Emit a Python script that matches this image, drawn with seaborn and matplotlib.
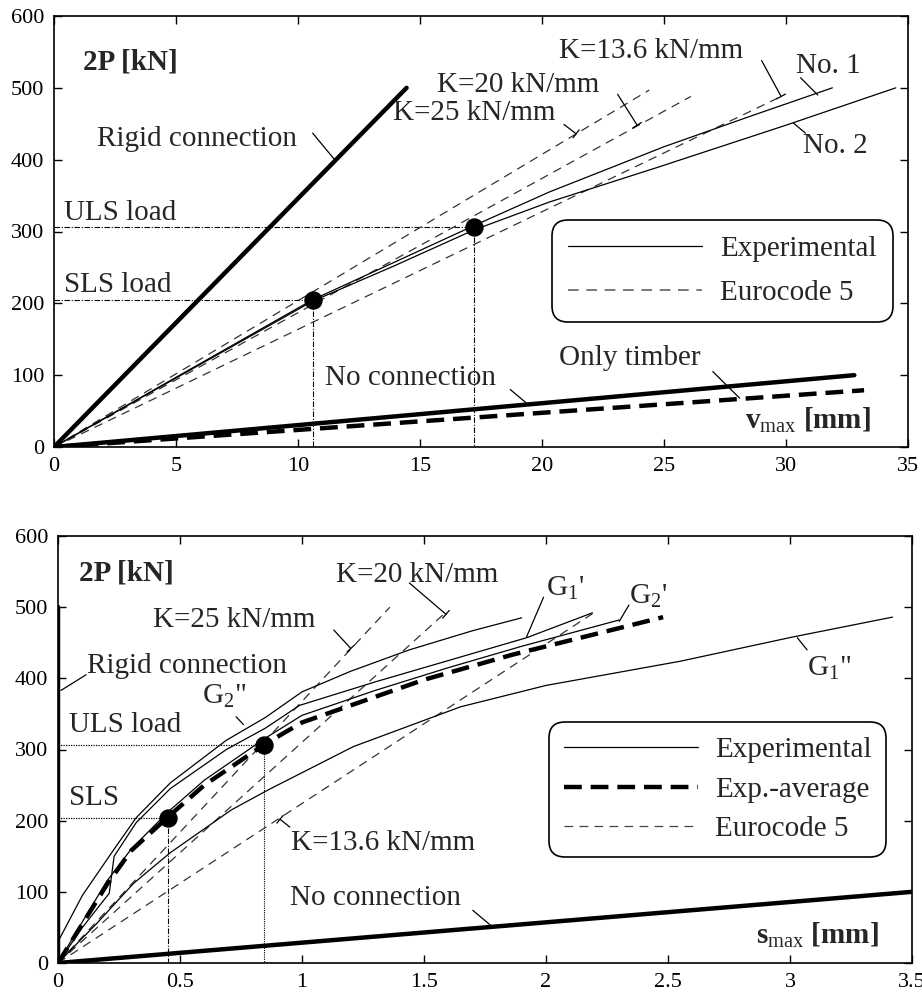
import numpy as np
import seaborn as sns
import matplotlib.pyplot as plt
from matplotlib.lines import Line2D
from matplotlib.ticker import FuncFormatter

# ---- top panel: mid-span deflection v_max [mm] vs. load 2P [kN]
v_no1 = [0, 5, 10.6, 14, 17.2, 20.3, 25, 28.5, 31.9]
p_no1 = [0, 97, 205, 258, 308, 355, 418, 460, 500]
v_no2 = [0, 5, 10.6, 14, 17.2, 20.3, 24.8, 30, 34.5]
p_no2 = [0, 96, 203, 253, 302, 341, 390, 448, 500]
v_k25 = [0, 24.4]
p_k25 = [0, 497]
v_k20 = [0, 26.1]
p_k20 = [0, 488]
v_k136 = [0, 29.8]
p_k136 = [0, 488]
v_rigid = [0, 14.45]
p_rigid = [0, 500]
v_none = [0, 32.8]
p_none = [0, 100]
v_timber = [0, 33.2]
p_timber = [0, 79]

# ---- bottom panel: end slip s_max [mm] vs. load 2P [kN]
s_g2b = [0, 0.1, 0.22, 0.32, 0.46, 0.69, 0.85, 1.0, 1.2, 1.44, 1.7, 1.9]
p_g2b = [30, 95, 155, 204, 253, 313, 345, 381, 410, 440, 467, 485]
s_g1a = [0, 0.1, 0.21, 0.23, 0.32, 0.46, 0.69, 0.85, 0.99, 1.3, 1.6, 1.92, 2.19]
p_g1a = [0, 50, 98, 150, 197, 245, 300, 330, 362, 395, 425, 457, 492]
s_g2a = [0, 0.1, 0.2, 0.3, 0.45, 0.6, 0.85, 1.0, 1.3, 1.6, 1.9, 2.3]
p_g2a = [0, 58, 115, 160, 212, 257, 316, 348, 383, 415, 445, 482]
s_g1b = [0, 0.16, 0.31, 0.46, 0.71, 0.86, 1.21, 1.65, 2.0, 2.55, 3.01, 3.42]
p_g1b = [0, 56, 112, 155, 215, 243, 304, 360, 390, 424, 458, 486]
s_avg = [0, 0.1, 0.2, 0.3, 0.45, 0.6, 0.85, 1.0, 1.2, 1.5, 1.86, 2.2, 2.48]
p_avg = [0, 55, 110, 158, 205, 250, 308, 338, 362, 398, 433, 462, 486]
s_k25 = [0, 1.36]
p_k25b = [0, 500]
s_k20 = [0, 1.59]
p_k20b = [0, 493]
s_k136 = [0, 2.2]
p_k136b = [0, 493]
s_rigid = [0, 0]
p_rigidb = [0, 500]
s_none = [0, 3.5]
p_noneb = [0, 100]

# serviceability / ultimate limit state loads
p_sls = 204
p_uls = 306
v_sls, v_uls = 10.6, 17.2
s_sls, s_uls = 0.45, 0.845

sns.set_theme(style="ticks")
plt.rcParams['font.family'] = ['Liberation Serif', 'DejaVu Serif']
plt.rcParams['mathtext.fontset'] = 'custom'
plt.rcParams['mathtext.rm'] = 'Liberation Serif'
plt.rcParams['mathtext.bf'] = 'Liberation Serif:bold'

FS = 21
DASH = (0, (7, 5))
THICK_DASH = (0, (4, 2))
DASHDOT = (0, (5, 1.5, 1, 1.5))


def line(ax, x, y, lw=0.9, ls='-', color='black'):
    sns.lineplot(x=x, y=y, ax=ax, color=color, linewidth=lw, linestyle=ls,
                 sort=False, estimator=None, legend=False)


def label(ax, text, pos, start=None, end=None, tee=False, **kw):
    ax.text(pos[0], pos[1], text, fontsize=FS, ha='left', va='baseline', **kw)
    if start is not None:
        style = '-[, widthB=0.3, lengthB=0' if tee else '-'
        ax.annotate('', xy=end, xytext=start,
                    arrowprops=dict(arrowstyle=style, lw=0.9, color='black',
                                    shrinkA=0, shrinkB=0))


def style_axes(ax, xmax, xstep):
    ax.set_xlim(0, xmax)
    ax.set_ylim(0, 600)
    ax.set_xticks(np.arange(0, xmax + xstep / 2, xstep))
    ax.set_yticks(np.arange(0, 601, 100))
    ax.xaxis.set_major_formatter(FuncFormatter(lambda v, p: '%g' % v))
    ax.tick_params(direction='in', top=True, right=True, length=6, width=1,
                   labelsize=16, pad=7, colors='black')
    for sp in ax.spines.values():
        sp.set_visible(True)
        sp.set_linewidth(1.2)
        sp.set_color('black')
    ax.set_xlabel('')
    ax.set_ylabel('')


def box(leg):
    frame = leg.get_frame()
    frame.set_linewidth(1.2)
    frame.set_boxstyle('round,pad=0,rounding_size=0.55')


fig = plt.figure(figsize=(9.22, 9.93), dpi=100)
ax1 = fig.add_axes([54 / 922, 1 - 447 / 993, 854 / 922, 431 / 993])
ax2 = fig.add_axes([58 / 922, 1 - 963 / 993, 854 / 922, 427 / 993])

# ---------------- top panel
line(ax1, [0, v_uls, v_uls], [p_uls, p_uls, 0], lw=0.8, ls=DASHDOT)
line(ax1, [0, v_sls, v_sls], [p_sls, p_sls, 0], lw=0.8, ls=DASHDOT)
line(ax1, v_k25, p_k25, ls=DASH, color='#333333')
line(ax1, v_k20, p_k20, ls=DASH, color='#333333')
line(ax1, v_k136, p_k136, ls=DASH, color='#333333')
line(ax1, v_no1, p_no1)
line(ax1, v_no2, p_no2)
line(ax1, v_rigid, p_rigid, lw=3.2)
line(ax1, v_none, p_none, lw=3.2)
line(ax1, v_timber, p_timber, lw=3.2, ls=THICK_DASH)
sns.scatterplot(x=[v_sls, v_uls], y=[p_sls, p_uls], ax=ax1, s=150,
                color='black', edgecolor='black', zorder=5, legend=False)

label(ax1, '2P [kN]', (1.2, 525), fontweight='bold')
label(ax1, 'Rigid connection', (1.75, 419), (10.6, 437), (11.5, 400))
label(ax1, 'ULS load', (0.4, 316))
label(ax1, 'SLS load', (0.4, 216))
label(ax1, 'K=13.6 kN/mm', (20.7, 541), (29.0, 538), (29.8, 488), tee=True)
label(ax1, 'K=20 kN/mm', (15.7, 494), (23.1, 491), (23.9, 448), tee=True)
label(ax1, 'K=25 kN/mm', (13.9, 455), (20.9, 449), (21.4, 436), tee=True)
label(ax1, 'No. 1', (30.4, 521), (30.6, 514), (31.3, 490))
label(ax1, 'No. 2', (30.7, 409), (30.8, 437), (30.3, 451))
label(ax1, 'No connection', (11.1, 86), (18.7, 80), (19.4, 60))
label(ax1, 'Only timber', (20.7, 114), (27.0, 105), (28.1, 68))
ax1.text(28.3, 26, r'$\mathbf{v}_{\mathrm{max}}$ [mm]', fontsize=FS,
         fontweight='bold', ha='left', va='baseline')

h1 = [Line2D([], [], color='black', lw=0.9),
      Line2D([], [], color='#555555', lw=1.1, ls=(0, (7, 5)))]
leg1 = ax1.legend(h1, ['Experimental', 'Eurocode 5'], loc='upper right',
                  bbox_to_anchor=(0.982, 0.527), borderaxespad=0, fontsize=FS,
                  handlelength=4.6, handletextpad=0.6, labelspacing=0.6,
                  borderpad=0.55, fancybox=True, framealpha=1, edgecolor='black')
box(leg1)
style_axes(ax1, 35, 5)

# ---------------- bottom panel
line(ax2, [0, s_uls], [p_uls, p_uls], lw=0.9, ls=(0, (1, 1)))
line(ax2, [0, s_sls], [p_sls, p_sls], lw=0.9, ls=(0, (1, 1)))
line(ax2, [s_uls, s_uls], [p_uls, 0], lw=0.8, ls=(0, (1, 1)))
line(ax2, [s_sls, s_sls], [p_sls, 0], lw=0.8, ls=DASHDOT)
line(ax2, s_k25, p_k25b, ls=DASH, color='#333333')
line(ax2, s_k20, p_k20b, ls=DASH, color='#333333')
line(ax2, s_k136, p_k136b, ls=DASH, color='#333333')
line(ax2, s_g2b, p_g2b)
line(ax2, s_g1a, p_g1a)
line(ax2, s_g2a, p_g2a)
line(ax2, s_g1b, p_g1b)
line(ax2, s_avg, p_avg, lw=3.2, ls=THICK_DASH)
line(ax2, s_rigid, p_rigidb, lw=3.2)
line(ax2, s_none, p_noneb, lw=3.2)
sns.scatterplot(x=[s_sls, s_uls], y=[p_sls, p_uls], ax=ax2, s=150,
                color='black', edgecolor='black', zorder=5, legend=False)

label(ax2, '2P [kN]', (0.086, 538), fontweight='bold')
label(ax2, 'Rigid connection', (0.12, 407), (0.115, 405), (0.012, 383))
label(ax2, 'ULS load', (0.045, 324))
label(ax2, 'SLS', (0.045, 222))
label(ax2, 'G$_2$"', (0.59, 365), (0.73, 346), (0.76, 335))
label(ax2, 'K=25 kN/mm', (0.39, 472), (1.13, 468), (1.2, 442), tee=True)
label(ax2, 'K=20 kN/mm', (1.14, 535), (1.44, 534), (1.59, 490), tee=True)
label(ax2, "G$_1$'", (2.0, 517), (1.99, 514), (1.92, 458))
label(ax2, "G$_2$'", (2.34, 506), (2.34, 503), (2.30, 480))
label(ax2, 'G$_1$"', (3.07, 405), (3.07, 440), (3.03, 457))
label(ax2, 'K=13.6 kN/mm', (0.955, 159), (0.95, 191), (0.91, 202), tee=True)
label(ax2, 'No connection', (0.95, 81), (1.70, 74), (1.78, 51))
ax2.text(2.86, 28, r'$\mathbf{s}_{\mathrm{max}}$ [mm]', fontsize=FS,
         fontweight='bold', ha='left', va='baseline')

h2 = [Line2D([], [], color='black', lw=0.9),
      Line2D([], [], color='black', lw=3.2, ls=THICK_DASH),
      Line2D([], [], color='#444444', lw=0.9, ls=(0, (7, 5)))]
leg2 = ax2.legend(h2, ['Experimental', 'Exp.-average', 'Eurocode 5'],
                  loc='upper right', bbox_to_anchor=(0.970, 0.564),
                  borderaxespad=0, fontsize=FS, handlelength=4.6,
                  handletextpad=0.6, labelspacing=0.45, borderpad=0.5,
                  fancybox=True, framealpha=1, edgecolor='black')
box(leg2)
style_axes(ax2, 3.5, 0.5)

plt.savefig('out.png', dpi=100)
plt.close()
